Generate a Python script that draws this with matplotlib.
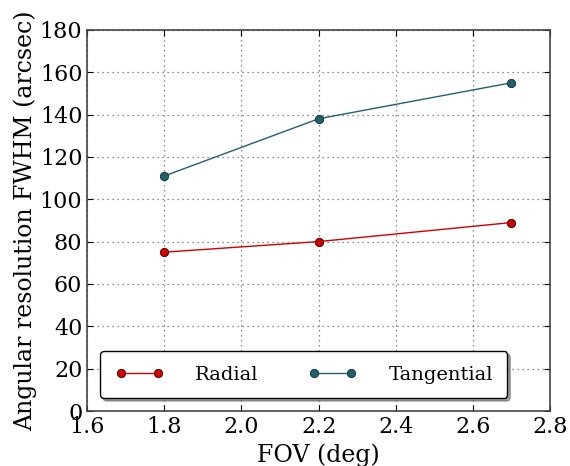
import matplotlib

matplotlib.use("Agg")

import matplotlib.pyplot as plt

# Datos.
fov = [1.8, 2.2, 2.7]
radial = [75, 80, 89]
tangencial = [111, 138, 155]

x_ticks = [1.6, 1.8, 2.0, 2.2, 2.4, 2.6, 2.8]
y_ticks = [0, 20, 40, 60, 80, 100, 120, 140, 160, 180]

plt.rcParams["font.family"] = "DejaVu Serif"
plt.rcParams["xtick.direction"] = "in"
plt.rcParams["ytick.direction"] = "in"

figura = plt.figure(figsize=(5.7, 4.66), dpi=100)
eje = figura.add_axes([0.153, 0.118, 0.812, 0.818])

eje.plot(fov, radial, color="#d00000", marker="o", markersize=6,
         markeredgecolor="#400000", markeredgewidth=0.6, linewidth=1.0,
         label="Radial")
eje.plot(fov, tangencial, color="#22606e", marker="o", markersize=6,
         markeredgecolor="#0c2a30", markeredgewidth=0.6, linewidth=1.0,
         label="Tangential")

eje.set_xlim(1.6, 2.8)
eje.set_ylim(0, 180)
eje.set_xticks(x_ticks)
eje.set_yticks(y_ticks)
eje.tick_params(labelsize=16, length=4, width=0.8, top=True, right=True)
eje.grid(True, linestyle=(0, (1, 3)), color="black", linewidth=0.9, alpha=0.6)

for lado in eje.spines.values():
    lado.set_color("#444444")
    lado.set_linewidth(1.2)

eje.set_xlabel("FOV (deg)", fontsize=17, labelpad=4)
eje.set_ylabel("Angular resolution FWHM (arcsec)", fontsize=17, labelpad=2)

eje.legend(loc="lower center", ncol=2, fontsize=14, fancybox=True,
           shadow=True, framealpha=1.0, edgecolor="black",
           bbox_to_anchor=(0.468, 0.008), numpoints=2, columnspacing=2.6,
           handlelength=2.5, borderpad=0.75, handletextpad=1.6)

figura.savefig("out.png", dpi=100)
plt.close(figura)
